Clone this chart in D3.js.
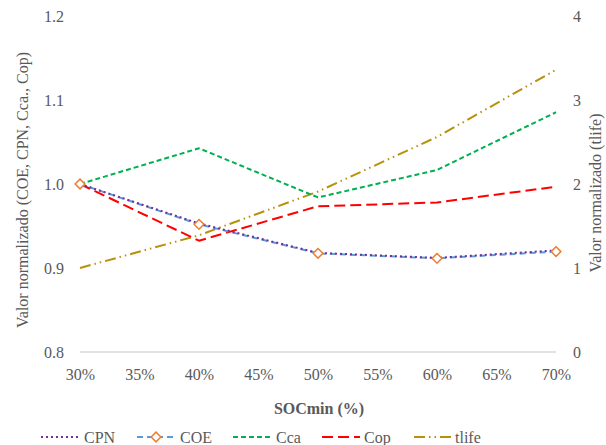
<!DOCTYPE html>
<html><head><meta charset="utf-8">
<script src="https://cdn.jsdelivr.net/npm/d3@7"></script>
<style>body{margin:0;background:#fff}svg{display:block}
svg text{font-family:"Liberation Serif","DejaVu Serif","Times New Roman",Times,serif !important;}</style>
</head><body>
<svg id="c" width="606" height="445"></svg>
<script>
const categories = [0.30, 0.40, 0.50, 0.60, 0.70];
const xTicks = [0.30, 0.35, 0.40, 0.45, 0.50, 0.55, 0.60, 0.65, 0.70];
const leftTicks = [0.8, 0.9, 1.0, 1.1, 1.2];
const rightTicks = [0, 1, 2, 3, 4];
const CPN = [1.000, 0.953, 0.918, 0.912, 0.921];
const COE = [1.000, 0.952, 0.9175, 0.9115, 0.9195];
const Cca = [1.000, 1.0425, 0.984, 1.0167, 1.0854];
const Cop = [1.000, 0.9325, 0.9735, 0.978, 0.9968];
const tlife = [1.00, 1.39, 1.91, 2.56, 3.36];

const font = "Liberation Serif";
const txt = "#595959";
const fs = 16;
const svg = d3.select("#c");
const x = d3.scaleLinear().domain([0.30, 0.70]).range([80, 556]);
const yL = d3.scaleLinear().domain([0.8, 1.2]).range([352, 16]);
const yR = d3.scaleLinear().domain([0, 4]).range([352, 16]);

svg.append("line").attr("x1", x(0.30)).attr("x2", x(0.70)).attr("y1", yL(0.8)).attr("y2", yL(0.8))
  .attr("stroke", "#d9d9d9").attr("stroke-width", 1.3);

const gL = svg.append("g").attr("transform", "translate(64,0)")
  .call(d3.axisLeft(yL).tickValues(leftTicks).tickFormat(d3.format(".1f")).tickSize(0).tickPadding(0));
gL.select(".domain").remove();
const gR = svg.append("g").attr("transform", "translate(573,0)")
  .call(d3.axisRight(yR).tickValues(rightTicks).tickFormat(d3.format("d")).tickSize(0).tickPadding(0));
gR.select(".domain").remove();
const gX = svg.append("g").attr("transform", "translate(0,369)")
  .call(d3.axisBottom(x).tickValues(xTicks).tickFormat(d3.format(".0%")).tickSize(0).tickPadding(0));
gX.select(".domain").remove();
svg.selectAll("g").attr("font-family", null);
svg.selectAll(".tick text").attr("font-family", font).attr("font-size", fs).attr("fill", txt);
gL.selectAll(".tick text").attr("dy", "0.36em");
gR.selectAll(".tick text").attr("dy", "0.36em");

svg.append("text").attr("transform", "translate(28,190) rotate(-90)").attr("text-anchor", "middle")
  .attr("font-family", font).attr("font-size", fs).attr("fill", txt)
  .text("Valor normalizado (COE, CPN, Cca., Cop)");
svg.append("text").attr("transform", "translate(601,193) rotate(-90)").attr("text-anchor", "middle")
  .attr("font-family", font).attr("font-size", fs).attr("fill", txt)
  .text("Valor normalizado (tlife)");
svg.append("text").attr("x", 319).attr("y", 414).attr("text-anchor", "middle")
  .attr("font-family", font).attr("font-size", fs).attr("font-weight", "bold").attr("fill", txt)
  .text("SOCmin (%)");

const series = [
  {name: "tlife", vals: tlife, y: yR, color: "#B8900A", dash: "11,4,1.5,4,1.5,4"},
  {name: "Cca", vals: Cca, y: yL, color: "#00B050", dash: "5,3"},
  {name: "Cop", vals: Cop, y: yL, color: "#FF0000", dash: "11,5"},
  {name: "COE", vals: COE, y: yL, color: "#5B9BD5", dash: "6,4"},
  {name: "CPN", vals: CPN, y: yL, color: "#7030A0", dash: "2,3"}
];

series.forEach(s => {
  const line = d3.line().x((d, i) => x(categories[i])).y(d => s.y(d));
  svg.append("path").datum(s.vals).attr("d", line).attr("fill", "none")
    .attr("stroke", s.color).attr("stroke-width", 2).attr("stroke-dasharray", s.dash)
    .attr("stroke-linejoin", "round");
});
const diamond = d3.symbol().type(d3.symbolDiamond2).size(60);
svg.selectAll(".mk").data(COE).join("path").attr("class", "mk")
  .attr("d", diamond).attr("transform", (d, i) => `translate(${x(categories[i])},${yL(d)})`)
  .attr("fill", "#fff").attr("stroke", "#ED7D31").attr("stroke-width", 1.5);

const legend = [
  {name: "CPN", color: "#7030A0", dash: "2,3", x1: 41, x2: 80, tx: 84},
  {name: "COE", color: "#5B9BD5", dash: "6,4", x1: 137, x2: 175, tx: 180, marker: true},
  {name: "Cca", color: "#00B050", dash: "5,3", x1: 233, x2: 271, tx: 276},
  {name: "Cop", color: "#FF0000", dash: "11,5", x1: 322, x2: 360, tx: 364},
  {name: "tlife", color: "#B8900A", dash: "11,4,1.5,4,1.5,4", x1: 414, x2: 452, tx: 455}
];
const ly = 437;
legend.forEach(l => {
  svg.append("line").attr("x1", l.x1).attr("x2", l.x2).attr("y1", ly).attr("y2", ly)
    .attr("stroke", l.color).attr("stroke-width", 2).attr("stroke-dasharray", l.dash);
  if (l.marker) {
    svg.append("path").attr("d", diamond).attr("transform", `translate(${(l.x1 + l.x2) / 2},${ly})`)
      .attr("fill", "#fff").attr("stroke", "#ED7D31").attr("stroke-width", 1.5);
  }
  svg.append("text").attr("x", l.tx).attr("y", ly).attr("dy", "0.36em")
    .attr("font-family", font).attr("font-size", fs).attr("fill", txt).text(l.name);
});
</script>
</body></html>
